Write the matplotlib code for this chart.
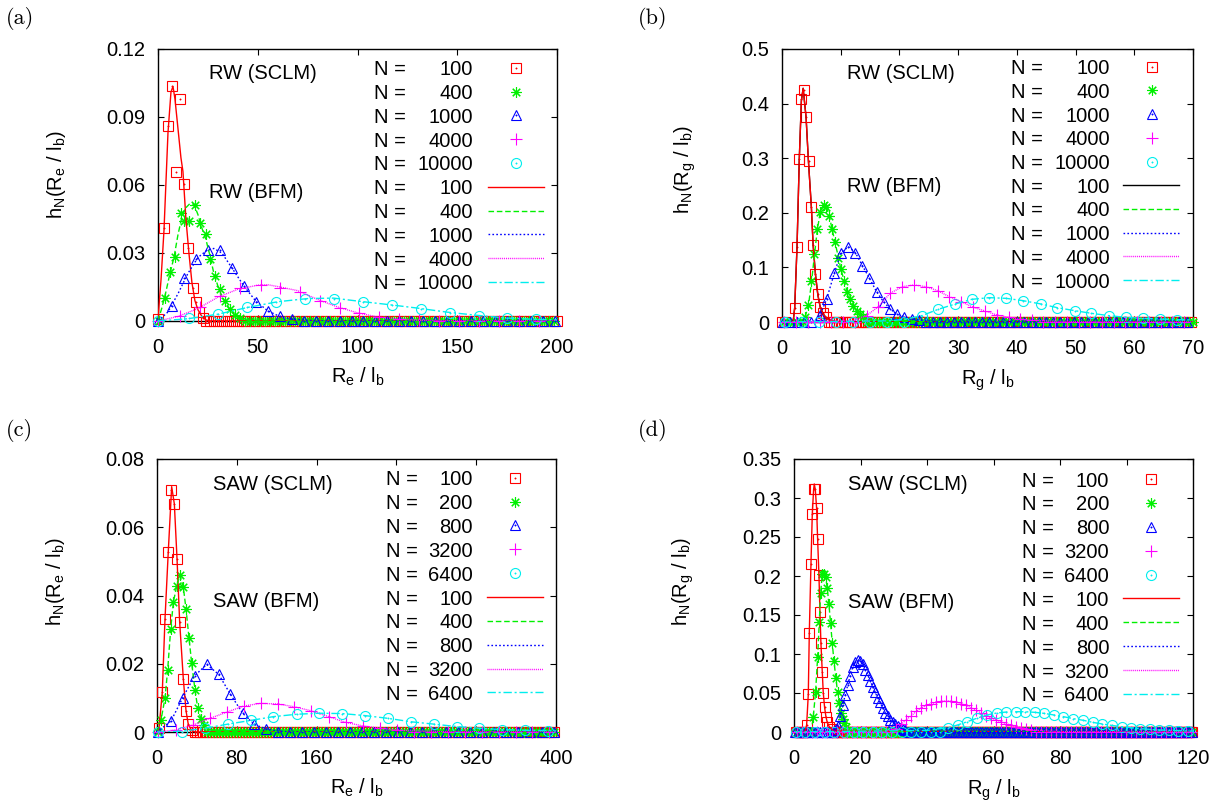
import numpy as np
import matplotlib
matplotlib.use("Agg")
import matplotlib.pyplot as plt

plt.rcParams['font.family'] = ['Liberation Sans', 'DejaVu Sans']
plt.rcParams['mathtext.fontset'] = 'custom'
plt.rcParams['mathtext.rm'] = 'Liberation Sans'
plt.rcParams['mathtext.it'] = 'Liberation Sans:italic'
plt.rcParams['mathtext.bf'] = 'Liberation Sans:bold'

FS = 14.5

# ---------------- panel (a): RW, R_e ----------------
a_sclm100_x = [0, 3.2, 5.2, 7.2, 9.0, 11.2, 13.2, 15.2, 17.4, 19.0, 20.8, 22.5]
a_sclm100_y = [0.001, 0.041, 0.086, 0.1037, 0.0659, 0.098, 0.0604, 0.0323, 0.0144, 0.0085, 0.004, 0.0015]
a_sclm400_x = [0.5, 3.4, 6.1, 8.7, 11.3, 12.8, 15.5, 18.5, 21.0, 23.9, 26.1, 28.7, 31.3, 33.6, 36.3, 38.5, 41.0]
a_sclm400_y = [0, 0.010, 0.0215, 0.0284, 0.0477, 0.0441, 0.0441, 0.0512, 0.0431, 0.0386, 0.0272, 0.0197, 0.014, 0.009, 0.0052, 0.0027, 0.0012]
a_sclm1000_x = [0, 7.0, 12.9, 19.2, 24.9, 31.1, 37.2, 43.2, 49.0, 55.0, 61.0, 67.0]
a_sclm1000_y = [0, 0.0066, 0.0188, 0.0272, 0.0313, 0.0313, 0.0235, 0.0154, 0.0085, 0.0044, 0.0022, 0.001]
a_sclm4000_x = [0, 10.9, 21.0, 31.0, 41.0, 51.4, 61.3, 71.2, 81.2, 91.2, 100.9, 111.0, 121.0, 131.0]
a_sclm4000_y = [0, 0.0024, 0.006, 0.0112, 0.0145, 0.0157, 0.0145, 0.0127, 0.0087, 0.0057, 0.0034, 0.0018, 0.0008, 0.0003]
a_sclm10000_x = [0, 15.6, 30.0, 44.4, 59.0, 73.6, 88.0, 102.6, 117.1, 131.7, 146.3, 160.7, 175.1, 189.7]
a_sclm10000_y = [0, 0.0012, 0.0032, 0.006, 0.0085, 0.0098, 0.0098, 0.0083, 0.0071, 0.0055, 0.0037, 0.0024, 0.0012, 0.0007]
a_sclm_tails = [(24, 2.0), (43.5, 2.5), (73, 6.0), (141, 10.0), (204, 15.0)]

a_bfm100_x = [0, 1.5, 3, 5, 6.5, 7.5, 8.5, 10, 11.5, 12.5, 14, 15.5, 17, 18.5, 20, 22, 24, 26, 200]
a_bfm100_y = [0.001, 0.018, 0.040, 0.083, 0.101, 0.1035, 0.098, 0.085, 0.072, 0.066, 0.045, 0.030, 0.017, 0.009, 0.005, 0.002, 0.0005, 0, 0]
a_bfm400_x = [0, 2, 4, 6, 8, 10, 12, 14, 16, 18, 20, 22, 24, 26, 28, 30, 32, 34, 36, 38, 40, 42, 45, 48, 200]
a_bfm400_y = [0, 0.006, 0.013, 0.021, 0.028, 0.038, 0.046, 0.050, 0.0518, 0.0515, 0.047, 0.041, 0.036, 0.029, 0.021, 0.0155, 0.011, 0.0078, 0.005, 0.003, 0.0018, 0.001, 0.0004, 0, 0]
a_bfm1000_x = [0, 5, 10, 15, 20, 25, 28, 32, 37, 43, 49, 55, 61, 67, 75, 85, 200]
a_bfm1000_y = [0, 0.004, 0.012, 0.021, 0.028, 0.0315, 0.032, 0.030, 0.0235, 0.0155, 0.0088, 0.0045, 0.002, 0.0009, 0.0003, 0, 0]
a_bfm4000_x = [0, 10, 20, 30, 40, 50, 55, 60, 70, 80, 90, 100, 110, 120, 130, 145, 160, 200]
a_bfm4000_y = [0, 0.002, 0.0055, 0.0105, 0.014, 0.0158, 0.016, 0.0152, 0.0134, 0.0095, 0.0062, 0.0036, 0.0018, 0.0009, 0.0004, 0.0001, 0, 0]
a_bfm10000_x = [0, 15, 30, 45, 60, 75, 88, 100, 115, 130, 145, 160, 175, 190, 200]
a_bfm10000_y = [0, 0.001, 0.003, 0.006, 0.0085, 0.0099, 0.0101, 0.0088, 0.0073, 0.0057, 0.0039, 0.0025, 0.0013, 0.0007, 0.0005]

# ---------------- panel (b): RW, R_g ----------------
b_sclm100_x = [0.5, 2.16, 2.56, 2.95, 3.29, 3.75, 4.09, 4.54, 5.0, 5.28, 5.68, 6.13, 6.42, 6.93, 7.5]
b_sclm100_y = [0, 0.026, 0.138, 0.2985, 0.408, 0.425, 0.375, 0.295, 0.211, 0.141, 0.087, 0.0507, 0.028, 0.016, 0.01]
b_sclm400_x = [3.92, 4.49, 4.94, 5.39, 5.96, 6.47, 7.15, 7.49, 8.0, 8.46, 9.03, 9.6, 9.99, 10.56, 11.13, 11.58, 12.15, 12.72, 13.3, 13.85]
b_sclm400_y = [0.0085, 0.0305, 0.075, 0.124, 0.170, 0.202, 0.214, 0.211, 0.195, 0.170, 0.146, 0.118, 0.0965, 0.0757, 0.0555, 0.0415, 0.0293, 0.0201, 0.014, 0.0098]
b_sclm1000_x = [6.47, 7.6, 8.9, 10.0, 11.3, 12.5, 13.7, 14.9, 16.1, 17.3, 18.45, 19.6, 20.8, 22.1, 23.3]
b_sclm1000_y = [0.0128, 0.0415, 0.089, 0.126, 0.138, 0.127, 0.103, 0.080, 0.0555, 0.0372, 0.0232, 0.0146, 0.0098, 0.006, 0.004]
b_sclm4000_x = [14.4, 16.4, 18.4, 20.5, 22.5, 24.5, 26.5, 28.5, 30.5, 32.6, 34.6, 36.6, 38.6, 40.5, 42.5]
b_sclm4000_y = [0.0116, 0.028, 0.0525, 0.0647, 0.0678, 0.0647, 0.0574, 0.0464, 0.0372, 0.0269, 0.0201, 0.0128, 0.0085, 0.0049, 0.0037]
b_sclm10000_x = [23.8, 26.6, 29.5, 32.3, 35.3, 38.2, 41.1, 44.1, 46.9, 49.9, 52.7, 55.7, 58.6, 61.4, 64.4, 67.2]
b_sclm10000_y = [0.0116, 0.0232, 0.033, 0.0415, 0.0446, 0.0433, 0.039, 0.033, 0.0262, 0.0207, 0.0159, 0.0116, 0.0085, 0.0067, 0.0055, 0.0043]
b_sclm_leads = [(0.0, 0.45), (0.3, 0.55), (0.1, 1.2), (0.4, 2.0), (0.5, 2.9)]
b_sclm_tails = [(7.95, 0.45), (14.4, 0.55), (24.5, 1.2), (44.5, 2.0), (70.1, 2.9)]

b_bfm100_x = [0, 1.9, 2.16, 2.56, 2.95, 3.3, 3.6, 4.1, 4.5, 5.0, 5.3, 5.7, 6.1, 6.5, 7, 7.5, 8, 9, 10, 70]
b_bfm100_y = [0, 0, 0.026, 0.138, 0.30, 0.405, 0.428, 0.375, 0.295, 0.211, 0.141, 0.087, 0.05, 0.028, 0.015, 0.008, 0.004, 0.001, 0, 0]
b_bfm400_x = [0, 3, 3.9, 4.5, 5, 5.5, 6, 6.5, 7, 7.5, 8, 8.5, 9, 9.6, 10, 10.6, 11.1, 11.6, 12.2, 12.7, 13.3, 14, 15, 16, 70]
b_bfm400_y = [0, 0, 0.008, 0.03, 0.07, 0.12, 0.168, 0.2, 0.213, 0.212, 0.196, 0.172, 0.147, 0.119, 0.098, 0.075, 0.056, 0.041, 0.029, 0.02, 0.013, 0.008, 0.003, 0.001, 0]
b_bfm1000_x = [0, 5.5, 6.5, 7.6, 8.9, 10, 11.3, 12.5, 13.7, 14.9, 16.1, 17.3, 18.5, 19.6, 20.8, 22, 24, 26, 70]
b_bfm1000_y = [0, 0, 0.013, 0.042, 0.089, 0.126, 0.138, 0.127, 0.103, 0.08, 0.0555, 0.037, 0.023, 0.0146, 0.0098, 0.006, 0.003, 0.001, 0]
b_bfm4000_x = [0, 12, 14.4, 16.4, 18.4, 20.5, 22.5, 24.5, 26.5, 28.5, 30.5, 32.6, 34.6, 36.6, 38.6, 40.5, 43, 46, 50, 70]
b_bfm4000_y = [0, 0.002, 0.0116, 0.028, 0.0525, 0.0647, 0.0678, 0.0647, 0.0574, 0.0464, 0.0372, 0.0269, 0.0201, 0.0128, 0.0085, 0.0049, 0.003, 0.0015, 0.0005, 0]
b_bfm10000_x = [0, 18, 21, 23.8, 26.6, 29.5, 32.3, 35.3, 38.2, 41.1, 44.1, 46.9, 49.9, 52.7, 55.7, 58.6, 61.4, 64.4, 67.2, 70]
b_bfm10000_y = [0, 0.002, 0.005, 0.0116, 0.0232, 0.033, 0.0415, 0.0446, 0.0433, 0.039, 0.033, 0.0262, 0.0207, 0.0159, 0.0116, 0.0085, 0.0067, 0.0055, 0.0043, 0.0038]

# ---------------- panel (c): SAW, R_e ----------------
c_sclm100_x = [2.0, 5.3, 8.0, 11.3, 14.0, 17.4, 20.1, 22.7, 26.4, 29.1, 31.4, 34.6]
c_sclm100_y = [0.0011, 0.0116, 0.033, 0.0528, 0.0709, 0.0668, 0.0506, 0.0323, 0.0155, 0.0062, 0.0022, 0.0005]
c_sclm200_x = [1.0, 4.0, 8.0, 10.7, 13.7, 16.4, 19.7, 23.0, 26.4, 29.1, 32.1, 34.8, 38.1, 40.8, 44.1, 47.4]
c_sclm200_y = [0, 0.0035, 0.0099, 0.0182, 0.0301, 0.038, 0.0428, 0.046, 0.0424, 0.036, 0.0275, 0.0201, 0.0123, 0.0071, 0.0038, 0.002]
c_sclm800_x = [1.3, 14.0, 25.7, 37.8, 49.8, 61.8, 73.5, 85.9, 97.5, 109.6]
c_sclm800_y = [0, 0.0032, 0.010, 0.0165, 0.0198, 0.0169, 0.0111, 0.0055, 0.0022, 0.0009]
c_sclm3200_x = [1.3, 18.7, 35.8, 53.1, 69.8, 86.9, 104.0, 121.0, 137.7, 154.7, 172.1, 189.2, 206.2, 223.6, 240.4]
c_sclm3200_y = [0, 0.0006, 0.002, 0.004, 0.0058, 0.0076, 0.0084, 0.0082, 0.0074, 0.0062, 0.0045, 0.0028, 0.0018, 0.0011, 0.0006]
c_sclm6400_x = [1.3, 24.7, 48.1, 70.9, 94.2, 116.6, 140.0, 162.7, 185.8, 208.8, 231.6, 254.6, 277.7, 300.4, 323.1, 346.2, 368.9, 392.0]
c_sclm6400_y = [0, 0, 0.0011, 0.0023, 0.0034, 0.0045, 0.0052, 0.0055, 0.0054, 0.0048, 0.004, 0.003, 0.0023, 0.0016, 0.0011, 0.0007, 0.0005, 0.0004]
c_sclm_tails = [(37.6, 3.0), (50.4, 3.0), (121.6, 12.0), (257.4, 17.0), (415.0, 23.0)]

c_bfm100_x = [0, 2, 5.3, 8, 11.3, 14.7, 17.4, 20.1, 22.7, 26.4, 29.1, 31.4, 34.6, 38, 400]
c_bfm100_y = [0, 0.0011, 0.0116, 0.033, 0.0528, 0.0719, 0.0668, 0.0506, 0.0323, 0.0155, 0.0062, 0.0022, 0.0005, 0, 0]
c_bfm400_x = [0, 4, 8, 10.7, 13.7, 16.4, 19.7, 23, 26.4, 29.1, 32.1, 34.8, 38.1, 40.8, 44.1, 47.4, 52, 60, 400]
c_bfm400_y = [0, 0.0035, 0.0099, 0.0182, 0.0301, 0.038, 0.0428, 0.046, 0.0424, 0.036, 0.0275, 0.0201, 0.0123, 0.0071, 0.0038, 0.002, 0.0008, 0.0002, 0]
c_bfm800_x = [0, 14, 25.7, 37.8, 49.8, 61.8, 73.5, 85.9, 97.5, 109.6, 121, 135, 400]
c_bfm800_y = [0, 0.0032, 0.010, 0.0165, 0.0198, 0.0169, 0.0111, 0.0055, 0.0022, 0.0009, 0.0003, 0, 0]
c_bfm3200_x = [0, 18.7, 35.8, 53.1, 69.8, 86.9, 104, 121, 137.7, 154.7, 172.1, 189.2, 206.2, 223.6, 240.4, 260, 290, 400]
c_bfm3200_y = [0, 0.0006, 0.002, 0.004, 0.0058, 0.0076, 0.0084, 0.0082, 0.0074, 0.0062, 0.0045, 0.0028, 0.0018, 0.0011, 0.0006, 0.0003, 0.0001, 0]
c_bfm6400_x = [0, 24.7, 48.1, 70.9, 94.2, 116.6, 140, 162.7, 185.8, 208.8, 231.6, 254.6, 277.7, 300.4, 323.1, 346.2, 368.9, 392, 400]
c_bfm6400_y = [0, 0.0002, 0.0011, 0.0023, 0.0034, 0.0045, 0.0052, 0.0055, 0.0054, 0.0048, 0.004, 0.003, 0.0023, 0.0016, 0.0011, 0.0007, 0.0005, 0.0004, 0.0003]

# ---------------- panel (d): SAW, R_g ----------------
d_sclm100_x = [3.8, 4.3, 4.6, 5.1, 5.5, 5.9, 6.4, 6.8, 7.1, 7.5, 7.8, 8.1, 8.5, 8.8, 9.2, 9.6, 10.0, 10.6, 11.3]
d_sclm100_y = [0.009, 0.0483, 0.127, 0.215, 0.2795, 0.311, 0.311, 0.287, 0.2474, 0.2013, 0.1543, 0.1137, 0.0773, 0.0504, 0.0316, 0.0197, 0.0124, 0.0068, 0.0038]
d_sclm200_x = [5.8, 6.5, 7.1, 7.6, 8.0, 8.5, 9.0, 9.5, 10.0, 10.5, 11.0, 11.5, 12.0, 12.6, 13.1, 13.6, 14.1, 14.6, 15.1, 15.6]
d_sclm200_y = [0.0197, 0.0517, 0.0957, 0.1406, 0.1778, 0.2021, 0.2021, 0.199, 0.1842, 0.1641, 0.1393, 0.1145, 0.0915, 0.0688, 0.0517, 0.0368, 0.0248, 0.0162, 0.0111, 0.0064]
d_sclm800_x = [12.4, 13.15, 13.9, 14.65, 15.4, 16.15, 16.9, 17.65, 18.4, 19.15, 19.9, 20.65, 21.4, 22.15, 22.9, 23.65, 24.4, 25.15, 25.9, 26.65, 27.4, 28.15, 28.9, 29.65, 30.4, 31.15, 31.9, 32.65, 33.4]
d_sclm800_y = [0.002, 0.008, 0.02, 0.035, 0.047, 0.060, 0.072, 0.083, 0.090, 0.092, 0.091, 0.087, 0.080, 0.073, 0.066, 0.058, 0.051, 0.044, 0.038, 0.031, 0.025, 0.020, 0.016, 0.013, 0.010, 0.0075, 0.0055, 0.004, 0.003]
d_sclm3200_x = [30.8, 32.3, 33.8, 35.3, 36.8, 38.3, 39.8, 41.3, 42.8, 44.3, 45.8, 47.3, 48.8, 50.3, 51.8, 53.3, 54.8, 56.3, 57.8, 59.3, 60.8, 62.3, 63.8, 65.3, 66.8, 68.3, 69.8, 71.3]
d_sclm3200_y = [0.004, 0.010, 0.016, 0.021, 0.0266, 0.031, 0.034, 0.0364, 0.038, 0.0394, 0.0398, 0.0394, 0.038, 0.0364, 0.034, 0.031, 0.028, 0.0244, 0.021, 0.018, 0.0154, 0.0129, 0.0107, 0.0086, 0.0069, 0.0056, 0.0043, 0.003]
d_sclm6400_x = [46.4, 49.2, 52.1, 54.9, 58.0, 61.0, 63.8, 66.8, 69.5, 72.5, 75.2, 78.2, 81.0, 84.0, 87.0, 89.8, 92.7, 95.5, 98.6, 101.3, 104.1, 107.1, 109.9, 112.9, 115.6, 118.6]
d_sclm6400_y = [0.0056, 0.009, 0.0132, 0.0175, 0.0218, 0.0244, 0.0256, 0.026, 0.026, 0.0252, 0.0239, 0.0218, 0.0197, 0.0171, 0.015, 0.0124, 0.0103, 0.0085, 0.0068, 0.0056, 0.0043, 0.0034, 0.0026, 0.0021, 0.0017, 0.0013]
d_sclm_leads = [(0.6, 0.4), (0.8, 0.5), (0.4, 0.75), (0.8, 1.5), (0.5, 2.9)]
d_sclm_tails = [(11.7, 0.4), (16.1, 0.5), (34.15, 0.75), (72.8, 1.5), (121.0, 2.9)]

d_bfm100_x = [0, 3.3, 3.8, 4.3, 4.6, 5.1, 5.5, 5.9, 6.1, 6.4, 6.8, 7.1, 7.5, 7.8, 8.1, 8.5, 8.8, 9.2, 9.6, 10, 10.6, 11.3, 12, 120]
d_bfm100_y = [0, 0, 0.009, 0.0483, 0.127, 0.215, 0.2795, 0.311, 0.318, 0.311, 0.287, 0.2474, 0.2013, 0.1543, 0.1137, 0.0773, 0.0504, 0.0316, 0.0197, 0.0124, 0.0068, 0.0038, 0.001, 0]
d_bfm400_x = [0, 5.2, 5.8, 6.5, 7.1, 7.6, 8.0, 8.5, 8.8, 9.0, 9.5, 10.0, 10.5, 11.0, 11.5, 12.0, 12.6, 13.1, 13.6, 14.1, 14.6, 15.1, 15.6, 16.5, 17.5, 120]
d_bfm400_y = [0, 0, 0.0197, 0.0517, 0.0957, 0.1406, 0.1778, 0.2021, 0.207, 0.2021, 0.199, 0.1842, 0.1641, 0.1393, 0.1145, 0.0915, 0.0688, 0.0517, 0.0368, 0.0248, 0.0162, 0.0111, 0.0064, 0.003, 0.001, 0]
d_bfm800_x = [0, 11.5, 12.4, 13.15, 13.9, 14.65, 15.4, 16.15, 16.9, 17.65, 18.4, 19.15, 19.9, 20.65, 21.4, 22.15, 22.9, 23.65, 24.4, 25.15, 25.9, 26.65, 27.4, 28.15, 28.9, 29.65, 30.4, 31.15, 31.9, 32.65, 33.4, 35, 37, 120]
d_bfm800_y = [0, 0, 0.002, 0.008, 0.02, 0.035, 0.047, 0.060, 0.072, 0.083, 0.090, 0.092, 0.091, 0.087, 0.080, 0.073, 0.066, 0.058, 0.051, 0.044, 0.038, 0.031, 0.025, 0.020, 0.016, 0.013, 0.010, 0.0075, 0.0055, 0.004, 0.003, 0.0015, 0.0005, 0]
d_bfm3200_x = [0, 27, 30.8, 32.3, 33.8, 35.3, 36.8, 38.3, 39.8, 41.3, 42.8, 44.3, 45.8, 47.3, 48.8, 50.3, 51.8, 53.3, 54.8, 56.3, 57.8, 59.3, 60.8, 62.3, 63.8, 65.3, 66.8, 68.3, 69.8, 71.3, 75, 80, 120]
d_bfm3200_y = [0, 0.0005, 0.004, 0.010, 0.016, 0.021, 0.0266, 0.031, 0.034, 0.0364, 0.038, 0.0394, 0.0398, 0.0394, 0.038, 0.0364, 0.034, 0.031, 0.028, 0.0244, 0.021, 0.018, 0.0154, 0.0129, 0.0107, 0.0086, 0.0069, 0.0056, 0.0043, 0.003, 0.0015, 0.0005, 0]
d_bfm6400_x = [0, 40, 46.4, 49.2, 52.1, 54.9, 58.0, 61.0, 63.8, 66.8, 69.5, 72.5, 75.2, 78.2, 81.0, 84.0, 87.0, 89.8, 92.7, 95.5, 98.6, 101.3, 104.1, 107.1, 109.9, 112.9, 115.6, 118.6, 120]
d_bfm6400_y = [0, 0.002, 0.0056, 0.009, 0.0132, 0.0175, 0.0218, 0.0244, 0.0256, 0.026, 0.026, 0.0252, 0.0239, 0.0218, 0.0197, 0.0171, 0.015, 0.0124, 0.0103, 0.0085, 0.0068, 0.0056, 0.0043, 0.0034, 0.0026, 0.0021, 0.0017, 0.0013, 0.0012]

# ---------------- labels / ticks ----------------
rw_sclm_N = [100, 400, 1000, 4000, 10000]
rw_bfm_N = [100, 400, 1000, 4000, 10000]
saw_sclm_N = [100, 200, 800, 3200, 6400]
saw_bfm_N = [100, 400, 800, 3200, 6400]

a_xticks = [0, 50, 100, 150, 200]
a_yticks = [0, 0.03, 0.06, 0.09, 0.12]
a_yticklabels = ['0', '0.03', '0.06', '0.09', '0.12']
b_xticks = [0, 10, 20, 30, 40, 50, 60, 70]
b_yticks = [0, 0.1, 0.2, 0.3, 0.4, 0.5]
b_yticklabels = ['0', '0.1', '0.2', '0.3', '0.4', '0.5']
c_xticks = [0, 80, 160, 240, 320, 400]
c_yticks = [0, 0.02, 0.04, 0.06, 0.08]
c_yticklabels = ['0', '0.02', '0.04', '0.06', '0.08']
d_xticks = [0, 20, 40, 60, 80, 100, 120]
d_yticks = [0, 0.05, 0.1, 0.15, 0.2, 0.25, 0.3, 0.35]
d_yticklabels = ['0', '0.05', '0.1', '0.15', '0.2', '0.25', '0.3', '0.35']

# ---------------- styles ----------------
COLORS = ['#ff0000', '#00f000', '#0000ff', '#ff00ff', '#00eeee']
MARKERS = ['s', (8, 2, 0), '^', '+', 'o']
MSIZE = [7.5, 7.5, 7.5, 8.0, 7.2]
CENTER_DOT = [True, False, True, False, True]
DASHES = [None, (4, 2), (1.2, 1.6), (0.7, 0.7), (6, 2, 1.5, 2)]

W, H = 1218, 801
fig = plt.figure(figsize=(W / 100, H / 100), dpi=100)


def rect(l, r, t, b):
    return [l / W, (H - b) / H, (r - l) / W, (b - t) / H]


def draw_markers(ax, x, y, i, **kw):
    ax.plot(x, y, linestyle='none', marker=MARKERS[i], ms=MSIZE[i],
            mfc='none', mec=COLORS[i], mew=0.8, zorder=3, **kw)
    if CENTER_DOT[i]:
        ax.plot(x, y, linestyle='none', marker='o', ms=1.0, mfc=COLORS[i],
                mec=COLORS[i], mew=0.3, zorder=3, **kw)


def draw_line(ax, x, y, i, color=None, **kw):
    c = COLORS[i] if color is None else color
    ln, = ax.plot(x, y, color=c, lw=1.0, zorder=4, **kw)
    if DASHES[i] is not None:
        ln.set_dashes(DASHES[i])
    return ln


def panel(r, xlim, xticks, ylim, yticks, yticklabels, sclm, bfm, leads, tails,
          nsclm, nbfm, title1, title2, xlab, ylab, letter, letter_xy,
          legpos, bfm_first_color=None, ylab_x=-0.22, ylab_y=0.55, extra_first_red=False):
    ax = fig.add_axes(r)
    for i, (x, y) in enumerate(sclm):
        xx = list(x)
        yy = list(y)
        if leads is not None and leads[i] is not None:
            s, st = leads[i]
            lx = list(np.arange(s, x[0] - 0.5 * st, st))
            xx = lx + xx
            yy = [0.0] * len(lx) + yy
        if tails is not None and tails[i] is not None:
            s, st = tails[i]
            tx = list(np.arange(s, xlim[1] + 0.01, st))
            xx = xx + tx
            yy = yy + [0.0] * len(tx)
        draw_markers(ax, xx, yy, i, clip_on=False)
    for i, (x, y) in enumerate(bfm):
        if i == 0 and bfm_first_color is not None:
            draw_line(ax, x, y, i, color=bfm_first_color)
            if extra_first_red:
                draw_line(ax, x, y, i)
        else:
            draw_line(ax, x, y, i)
    ax.set_xlim(*xlim)
    ax.set_ylim(*ylim)
    ax.set_xticks(xticks)
    ax.set_xticklabels([str(t) for t in xticks])
    ax.set_yticks(yticks)
    ax.set_yticklabels(yticklabels)
    ax.tick_params(direction='in', length=4, width=0.8, top=True, right=True,
                   labelsize=FS, pad=9)
    ax.tick_params(axis='x', pad=12)
    for s in ax.spines.values():
        s.set_linewidth(1.0)
    ax.set_xlabel(xlab, fontsize=FS)
    ax.xaxis.set_label_coords(0.5, -0.165)
    ax.set_ylabel(ylab, fontsize=FS)
    ax.yaxis.set_label_coords(ylab_x, ylab_y)
    # manual gnuplot-style key
    xN, xnum, xm, xl0, xl1, y0, dy = legpos
    for k in range(5):
        yk = y0 - k * dy
        ax.text(xN, yk, 'N =', transform=ax.transAxes, fontsize=FS, ha='left', va='center_baseline')
        ax.text(xnum, yk, str(nsclm[k]), transform=ax.transAxes, fontsize=FS, ha='right', va='center_baseline')
        draw_markers(ax, [xm], [yk], k, transform=ax.transAxes, clip_on=False)
    for k in range(5):
        yk = y0 - (k + 5) * dy
        ax.text(xN, yk, 'N =', transform=ax.transAxes, fontsize=FS, ha='left', va='center_baseline')
        ax.text(xnum, yk, str(nbfm[k]), transform=ax.transAxes, fontsize=FS, ha='right', va='center_baseline')
        c = bfm_first_color if (k == 0 and bfm_first_color is not None) else None
        draw_line(ax, [xl0, xl1], [yk, yk], k, color=c, transform=ax.transAxes, clip_on=False)
    ax.text(title1[0], title1[1], title1[2], transform=ax.transAxes, fontsize=FS, ha='left', va='center_baseline')
    ax.text(title2[0], title2[1], title2[2], transform=ax.transAxes, fontsize=FS, ha='left', va='center_baseline')
    fig.text(letter_xy[0] / W, 1 - letter_xy[1] / H, letter, family='cmr10', fontsize=16,
             ha='left', va='center')
    return ax


ylab_e = r'h$_{\mathrm{N}}$(R$_{\mathrm{e}}$ / l$_{\mathrm{b}}$)'
ylab_g = r'h$_{\mathrm{N}}$(R$_{\mathrm{g}}$ / l$_{\mathrm{b}}$)'
xlab_e = r'R$_{\mathrm{e}}$ / l$_{\mathrm{b}}$'
xlab_g = r'R$_{\mathrm{g}}$ / l$_{\mathrm{b}}$'

panel(rect(158, 557, 49, 321), (0, 200), a_xticks, (0, 0.12), a_yticks, a_yticklabels,
      [(a_sclm100_x, a_sclm100_y), (a_sclm400_x, a_sclm400_y), (a_sclm1000_x, a_sclm1000_y),
       (a_sclm4000_x, a_sclm4000_y), (a_sclm10000_x, a_sclm10000_y)],
      [(a_bfm100_x, a_bfm100_y), (a_bfm400_x, a_bfm400_y), (a_bfm1000_x, a_bfm1000_y),
       (a_bfm4000_x, a_bfm4000_y), (a_bfm10000_x, a_bfm10000_y)],
      None, a_sclm_tails, rw_sclm_N, rw_bfm_N,
      (0.128, 0.9166, 'RW (SCLM)'), (0.128, 0.4816, 'RW (BFM)'), xlab_e, ylab_e,
      '(a)', (6, 18), (0.542, 0.790, 0.8965, 0.826, 0.968, 0.931, 0.0875),
      ylab_x=-0.225, ylab_y=0.54)

panel(rect(782, 1193, 49, 322), (0, 70), b_xticks, (0, 0.5), b_yticks, b_yticklabels,
      [(b_sclm100_x, b_sclm100_y), (b_sclm400_x, b_sclm400_y), (b_sclm1000_x, b_sclm1000_y),
       (b_sclm4000_x, b_sclm4000_y), (b_sclm10000_x, b_sclm10000_y)],
      [(b_bfm100_x, b_bfm100_y), (b_bfm400_x, b_bfm400_y), (b_bfm1000_x, b_bfm1000_y),
       (b_bfm4000_x, b_bfm4000_y), (b_bfm10000_x, b_bfm10000_y)],
      b_sclm_leads, b_sclm_tails, rw_sclm_N, rw_bfm_N,
      (0.159, 0.919, 'RW (SCLM)'), (0.159, 0.502, 'RW (BFM)'), xlab_g, ylab_g,
      '(b)', (638, 18), (0.5564, 0.798, 0.901, 0.8297, 0.9667, 0.935, 0.0868),
      bfm_first_color='#000000', ylab_x=-0.205, ylab_y=0.56, extra_first_red=True)

panel(rect(157, 556, 459, 732), (0, 400), c_xticks, (0, 0.08), c_yticks, c_yticklabels,
      [(c_sclm100_x, c_sclm100_y), (c_sclm200_x, c_sclm200_y), (c_sclm800_x, c_sclm800_y),
       (c_sclm3200_x, c_sclm3200_y), (c_sclm6400_x, c_sclm6400_y)],
      [(c_bfm100_x, c_bfm100_y), (c_bfm400_x, c_bfm400_y), (c_bfm800_x, c_bfm800_y),
       (c_bfm3200_x, c_bfm3200_y), (c_bfm6400_x, c_bfm6400_y)],
      None, c_sclm_tails, saw_sclm_N, saw_bfm_N,
      (0.141, 0.9146, 'SAW (SCLM)'), (0.141, 0.487, 'SAW (BFM)'), xlab_e, ylab_e,
      '(c)', (6, 430), (0.573, 0.791, 0.897, 0.8262, 0.9682, 0.9315, 0.0874),
      ylab_x=-0.225, ylab_y=0.55)

panel(rect(794, 1193, 459, 732), (0, 120), d_xticks, (0, 0.35), d_yticks, d_yticklabels,
      [(d_sclm100_x, d_sclm100_y), (d_sclm200_x, d_sclm200_y), (d_sclm800_x, d_sclm800_y),
       (d_sclm3200_x, d_sclm3200_y), (d_sclm6400_x, d_sclm6400_y)],
      [(d_bfm100_x, d_bfm100_y), (d_bfm400_x, d_bfm400_y), (d_bfm800_x, d_bfm800_y),
       (d_bfm3200_x, d_bfm3200_y), (d_bfm6400_x, d_bfm6400_y)],
      d_sclm_leads, d_sclm_tails, saw_sclm_N, saw_bfm_N,
      (0.136, 0.913, 'SAW (SCLM)'), (0.136, 0.4835, 'SAW (BFM)'), xlab_g, ylab_g,
      '(d)', (638, 430), (0.572, 0.790, 0.895, 0.825, 0.9657, 0.9267, 0.0875),
      ylab_x=-0.245, ylab_y=0.55)

fig.savefig('out.png', dpi=100)
